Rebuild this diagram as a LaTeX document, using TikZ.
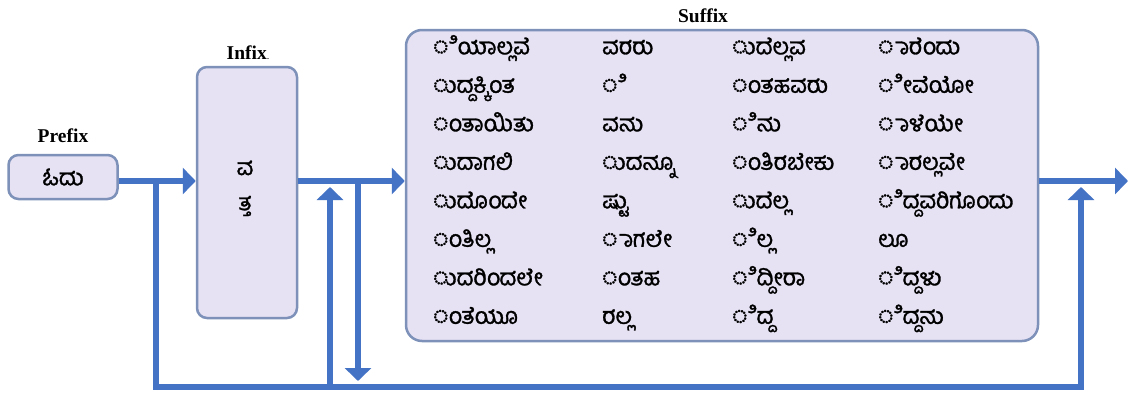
\documentclass[tikz,border=0pt]{standalone}
\usepackage{fontspec}
\setmainfont{Liberation Serif}
\newfontfamily\kn[Script=Kannada,FakeBold=1.3]{Hind Mysuru}
\usetikzlibrary{arrows.meta}
\definecolor{flowblue}{HTML}{4472C4}
\definecolor{boxfill}{HTML}{E6E1F3}
\definecolor{boxline}{HTML}{7D91B9}
\begin{document}
\begin{tikzpicture}[x=1pt,y=-1pt,
  morph/.style={draw=boxline, fill=boxfill, line width=2.5pt, rounded corners=10pt, inner sep=0pt},
  kntext/.style={font=\kn\fontsize{23}{26}\selectfont, inner sep=0pt},
  lbl/.style={font=\bfseries\fontsize{19.5}{22}\selectfont, inner sep=0pt},
  flow/.style={draw=flowblue, line width=6pt, -{Triangle[length=13pt,width=26pt]}},
  flowline/.style={draw=flowblue, line width=6pt}]
\useasboundingbox[fill=white] (0,0) rectangle (1135,407);

% boxes
\node[morph, kntext, minimum width=109pt, minimum height=44pt] (prefix) at (63,177) {ಓದು};
\node[morph, minimum width=100pt, minimum height=251pt] (infix) at (247,192.5) {};
\node[morph, rounded corners=16pt, minimum width=632pt, minimum height=311pt] (suffix) at (722,185.5) {};

% labels
\node[lbl] (prefixlbl) at (63,136) {Prefix};
\node[lbl] (infixlbl) at (248,53) {Infix{\mdseries\fontsize{10}{12}\selectfont.}};
\node[lbl] (suffixlbl) at (703,16) {Suffix};

% infix texts
\node[kntext] (inf1) at (245,168) {ವ};
\node[kntext] (inf2) at (245,206) {ತ್ತ};

% suffix texts
\foreach \t [count=\r] in {◌ಿಯಾಲ್ಲವೆ, ◌ುದ್ದಕ್ಕಿಂತ, ◌ಂತಾಯಿತು, ◌ುದಾಗಲಿ, ◌ುದೊಂದೇ, ◌ಂತಿಲ್ಲ, ◌ುದರಿಂದಲೇ, ◌ಂತೆಯೂ}
  \node[kntext, anchor=mid west] (sa\r) at (433,{52+38.5*(\r-1)}) {\t};
\foreach \t [count=\r] in {ವರರು, ◌ಿ, ವನು, ◌ುದನ್ನೂ, ಷ್ಟು, ◌ಾಗಲೇ, ◌ಂತಹ, ರಲ್ಲ}
  \node[kntext, anchor=mid west] (sb\r) at (602,{52+38.5*(\r-1)}) {\t};
\foreach \t [count=\r] in {◌ುದೆಲ್ಲವ, ◌ಂತಹವರು, ◌ಿನು, ◌ಂತಿರಬೇಕು, ◌ುದೆಲ್ಲ, ◌ಿಲ್ಲ, ◌ಿದ್ದೀರಾ, ◌ಿದ್ದ}
  \node[kntext, anchor=mid west] (sc\r) at (732,{52+38.5*(\r-1)}) {\t};
\foreach \t [count=\r] in {◌ಾರೆಂದು, ◌ೀವೆಯೋ, ◌ಾಳೆಯೇ, ◌ಾರಲ್ಲವೇ, ◌ಿದ್ದವರಿಗೊಂದು, ಲೂ, ◌ಿದ್ದಳು, ◌ಿದ್ದನು}
  \node[kntext, anchor=mid west] (sd\r) at (878,{52+38.5*(\r-1)}) {\t};

% coordinates
\coordinate (lvl) at (0,181);
\coordinate (bot) at (0,387);
\coordinate (j1) at (156,181);
\coordinate (up1) at (330,187);
\coordinate (dn0) at (358,181);
\coordinate (dn1) at (358,381);
\coordinate (up2) at (1081,187);
\coordinate (out) at (1128,181);

% connectors
\draw[flow] (prefix.east |- lvl) -- (infix.west |- lvl);
\draw[flow] (infix.east |- lvl) -- (suffix.west |- lvl);
\draw[flow] (suffix.east |- lvl) -- (out);
\draw[flow] (j1) -- (j1 |- bot) -- (up2 |- bot) -- (up2);
\draw[flow] (up1 |- bot) -- (up1);
\draw[flow] (dn0) -- (dn1);
\end{tikzpicture}
\end{document}
